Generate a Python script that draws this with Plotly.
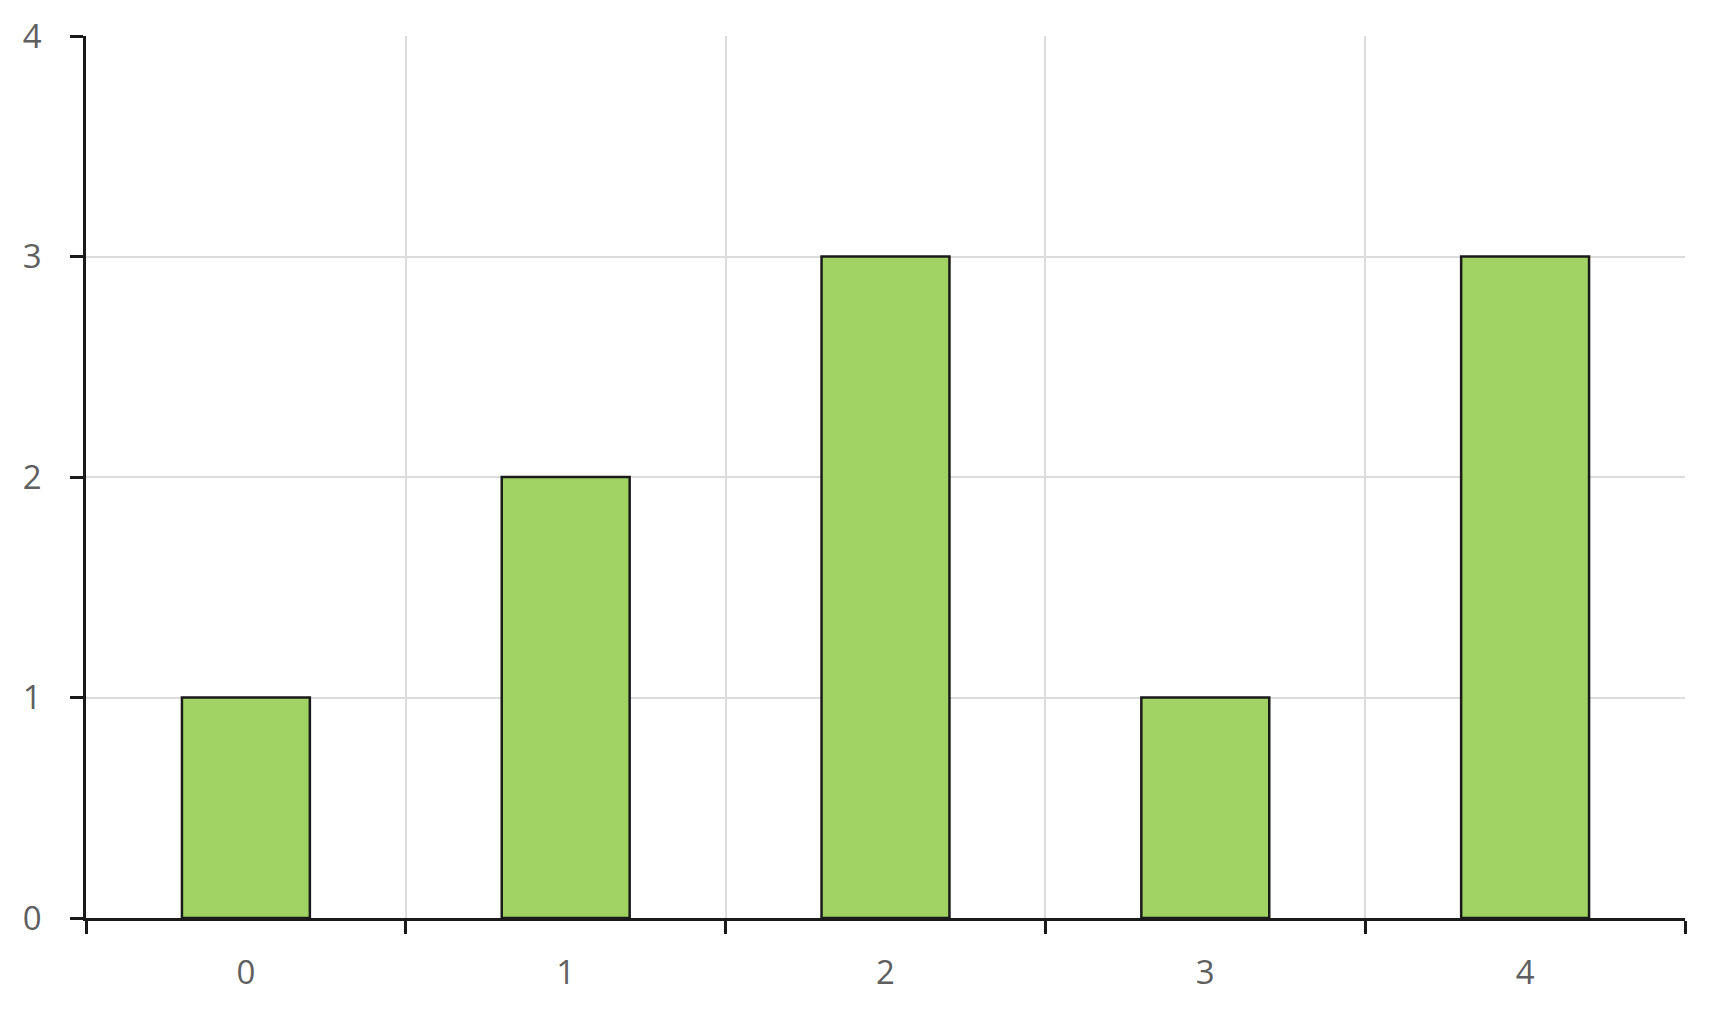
import plotly.graph_objects as go

categories = ["0", "1", "2", "3", "4"]
values = [1, 2, 3, 1, 3]
y_ticks = [0, 1, 2, 3, 4]

fig = go.Figure()
fig.add_trace(go.Bar(
    x=categories, y=values,
    marker=dict(color="#a0d264", line=dict(color="#1a1a1a", width=2.5)),
))

fig.update_layout(
    width=1715, height=1005,
    margin=dict(l=78, r=38, t=28, b=95),
    paper_bgcolor="white", plot_bgcolor="white",
    bargap=0.6, showlegend=False,
    font=dict(family="Open Sans", size=33, color="#5f5f5f"),
)
fig.update_xaxes(
    type="category", tickson="boundaries", range=[-0.5, 4.5],
    showline=True, linecolor="#1a1a1a", linewidth=2.5,
    ticks="outside", ticklen=13, tickwidth=2.5, tickcolor="#1a1a1a",
    showgrid=True, gridcolor="#dcdcdc", gridwidth=1.5,
    ticklabelstandoff=24, automargin=False,
)
fig.update_yaxes(
    range=[0, 4], tickvals=y_ticks,
    showline=True, linecolor="#1a1a1a", linewidth=2.5,
    ticks="outside", ticklen=13, tickwidth=2.5, tickcolor="#1a1a1a",
    showgrid=True, gridcolor="#dcdcdc", gridwidth=1.5,
    zeroline=False, ticklabelstandoff=22, automargin=False,
)

fig.write_html("out.html")
